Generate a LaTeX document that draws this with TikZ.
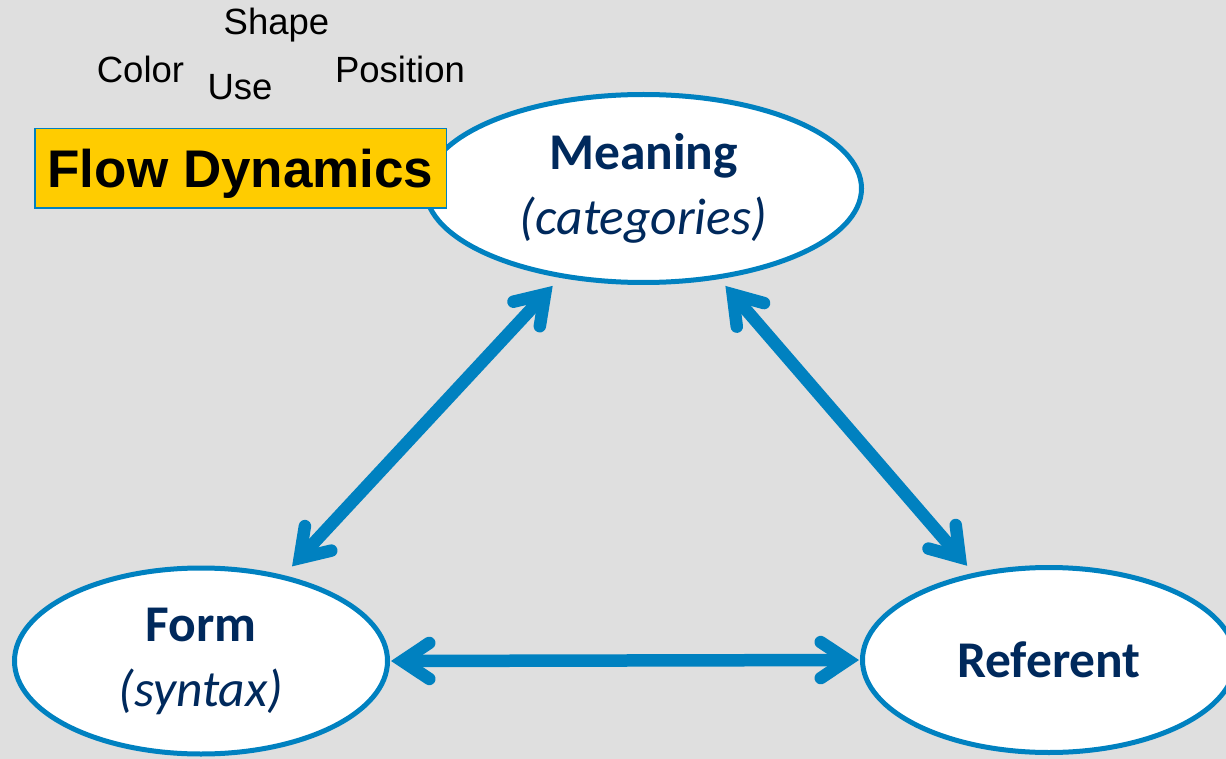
\documentclass[tikz,border=0pt]{standalone}
\usepackage{fontspec}
\setmainfont{Carlito}
\newfontfamily\arialfont{Liberation Sans}
\usetikzlibrary{arrows.meta,shapes.geometric}
\definecolor{bgGray}{RGB}{223,223,223}
\definecolor{lineBlue}{RGB}{0,129,192}
\definecolor{navy}{RGB}{0,41,92}
\definecolor{gold}{RGB}{255,204,0}
\begin{document}
\begin{tikzpicture}[x=1pt,y=-1pt,
  oval/.style={ellipse, draw=lineBlue, fill=white, line width=5pt, inner sep=0pt,
    align=center, text=navy, font=\fontsize{51.5}{65}\selectfont},
  arr/.style={lineBlue, line width=12.5pt,
    >={Straight Barb[length=27pt,width=36pt,line width=12.5pt,line cap=round,line join=miter]}, <->},
  topword/.style={anchor=base, inner sep=0pt, text=black,
    font=\arialfont\fontsize{36.5}{40}\selectfont},
  titlebox/.style={draw=lineBlue, fill=gold, line width=1.5pt, inner sep=0pt,
    text=black, text depth=0pt, font=\arialfont\bfseries\fontsize{53}{60}\selectfont}
]
\fill[bgGray] (0,0) rectangle (1226,759);
\useasboundingbox (0,0) rectangle (1226,759);

\node[topword] (shape) at (276.5,35) {Shape};
\node[topword] (color) at (140.5,83) {Color};
\node[topword] (use) at (240,100) {Use};
\node[topword] (position) at (400,83) {Position};

\node[oval, minimum width=436pt, minimum height=188pt] (meaning) at (643.5,188.5)
  {\textbf{Meaning}\\\textit{(categories)}};
\node[oval, minimum width=373pt, minimum height=186pt] (form) at (201,661)
  {\textbf{Form}\\\textit{(syntax)}};
\node[oval, minimum width=373pt, minimum height=185pt] (referent) at (1049,660)
  {\textbf{Referent}};

\node[titlebox, minimum width=411.5pt, minimum height=79.5pt] (flow) at (240.5,168.5)
  {Flow Dynamics};

\draw[arr, shorten <=12pt, shorten >=11pt] (form.46) -- (meaning.227);
\draw[arr, shorten <=9pt, shorten >=9.5pt] (meaning.310) -- (referent.131.5);
\draw[arr, shorten <=1pt, shorten >=1pt] (form.east) -- (referent.west);
\end{tikzpicture}
\end{document}
